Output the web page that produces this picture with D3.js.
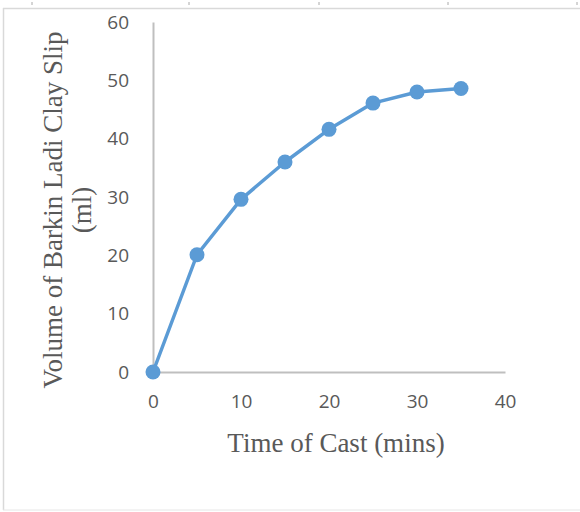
<!DOCTYPE html>
<html>
<head>
<meta charset="utf-8">
<script src="https://cdn.jsdelivr.net/npm/d3@7"></script>
<style>
  html, body { margin: 0; padding: 0; background: #fff; }
  svg { display: block; }
</style>
</head>
<body>
<svg id="chart" width="580" height="512"></svg>
<script>
const times = [0, 5, 10, 15, 20, 25, 30, 35];
const volumes = [0, 20.1, 29.6, 36, 41.6, 46.1, 48, 48.6];
const xTicks = [0, 10, 20, 30, 40];
const yTicks = [0, 10, 20, 30, 40, 50, 60];
const xTitle = "Time of Cast (mins)";
const yTitleLines = ["Volume of Barkin Ladi Clay Slip", "(ml)"];
const rulerMarks = [32, 189, 319, 448, 577];

const svg = d3.select("#chart");
const W = 580, H = 512;

// page frame
svg.append("rect").attr("x", 0).attr("y", 0).attr("width", W).attr("height", H).attr("fill", "#fff");
svg.append("line").attr("x1", 3).attr("x2", 580).attr("y1", 8.5).attr("y2", 8.5)
  .attr("stroke", "#d9d9d9").attr("stroke-width", 1.5);
svg.append("line").attr("x1", 3.5).attr("x2", 3.5).attr("y1", 8).attr("y2", 510)
  .attr("stroke", "#d9d9d9").attr("stroke-width", 1.5);
svg.append("line").attr("x1", 3).attr("x2", 580).attr("y1", 510).attr("y2", 510)
  .attr("stroke", "#e6e6e6").attr("stroke-width", 1);
svg.selectAll(".ruler").data(rulerMarks).enter().append("line")
  .attr("x1", d => d).attr("x2", d => d).attr("y1", 2).attr("y2", 5)
  .attr("stroke", "#aaa").attr("stroke-width", 1);

const x = d3.scaleLinear().domain([0, 40]).range([153, 505]);
const y = d3.scaleLinear().domain([0, 60]).range([372, 22]);

const axisColor = "#bfbfbf";
const labelColor = "#595959";
const tickFont = "'Open Sans', 'Liberation Sans', sans-serif";

// x axis
const gx = svg.append("g").attr("transform", `translate(0,${y(0)})`)
  .call(d3.axisBottom(x).tickValues(xTicks).tickSize(0).tickPadding(23));
gx.select(".domain").attr("stroke", axisColor).attr("stroke-width", 2);
gx.selectAll("text").attr("fill", labelColor).attr("font-size", 19).attr("font-family", tickFont);

// y axis
const gy = svg.append("g").attr("transform", `translate(${x(0)},0)`)
  .call(d3.axisLeft(y).tickValues(yTicks).tickSize(0).tickPadding(24));
gy.select(".domain").attr("stroke", axisColor).attr("stroke-width", 2);
gy.selectAll("text").attr("fill", labelColor).attr("font-size", 19).attr("font-family", tickFont);

// series
const pts = times.map((t, i) => [t, volumes[i]]);
svg.append("path").datum(pts)
  .attr("fill", "none").attr("stroke", "#5b9bd5").attr("stroke-width", 3.5)
  .attr("stroke-linejoin", "round")
  .attr("d", d3.line().x(d => x(d[0])).y(d => y(d[1])));
svg.selectAll(".pt").data(pts).enter().append("circle")
  .attr("cx", d => x(d[0])).attr("cy", d => y(d[1])).attr("r", 7.5)
  .attr("fill", "#5b9bd5");

// titles
const serif = "'Liberation Serif', 'Times New Roman', serif";
svg.append("text").attr("x", 336).attr("y", 452).attr("text-anchor", "middle")
  .attr("font-family", serif).attr("font-size", 27).attr("fill", labelColor)
  .text(xTitle);

const yt = svg.append("text").attr("transform", "translate(62,210) rotate(-90)")
  .attr("text-anchor", "middle").attr("font-family", serif).attr("font-size", 27)
  .attr("fill", labelColor);
yTitleLines.forEach((l, i) => {
  yt.append("tspan").attr("x", 0).attr("y", i * 29).text(l);
});
</script>
</body>
</html>
